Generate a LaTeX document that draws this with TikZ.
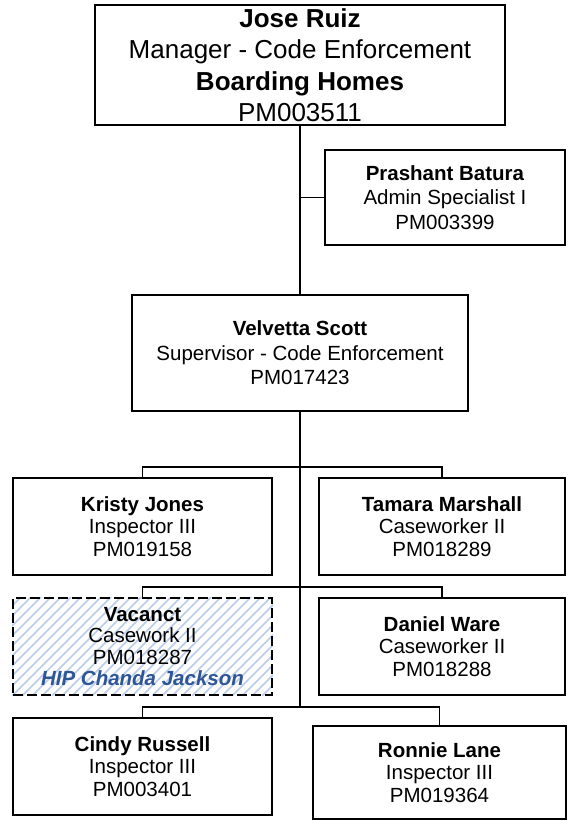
\documentclass[tikz,border=0pt]{standalone}
\usepackage{fontspec}
\setmainfont{Liberation Sans}
\usetikzlibrary{backgrounds}
\definecolor{hipblue}{RGB}{46,85,150}
\definecolor{hatchblue}{RGB}{185,204,234}
\begin{document}
\begin{tikzpicture}[x=1pt,y=-1pt,
  box/.style={draw=black, line width=1.8pt, rectangle, inner sep=0pt, align=center},
  bigtxt/.style={font=\fontsize{26}{31.5}\selectfont},
  midtxt/.style={font=\fontsize{20.5}{24.5}\selectfont},
  smalltxt/.style={font=\fontsize{20.5}{22.5}\selectfont},
  conn/.style={draw=black, line width=1.3pt},
  vacbox/.style={draw=black, line width=1.6pt, dash pattern=on 10pt off 4pt, rectangle, inner sep=0pt, align=center},
  hatch/.style={draw=hatchblue, line width=1.6pt}
]
\useasboundingbox (0,0) rectangle (571,820);

\node[box, bigtxt, minimum width=410pt, minimum height=120pt] (top) at (300,65)
  {\textbf{Jose Ruiz}\\Manager - Code Enforcement\\\textbf{Boarding Homes}\\PM003511};
\node[box, midtxt, minimum width=240pt, minimum height=95pt] (pras) at (445,197.5)
  {\textbf{Prashant Batura}\\Admin Specialist I\\PM003399};
\node[box, midtxt, minimum width=336pt, minimum height=116pt] (velv) at (300,353)
  {\textbf{Velvetta Scott}\\Supervisor - Code Enforcement\\PM017423};

\node[box, smalltxt, minimum width=259pt, minimum height=97pt] (kristy) at (142.5,526.5)
  {\textbf{Kristy Jones}\\Inspector III\\PM019158};
\node[box, smalltxt, minimum width=246pt, minimum height=97pt] (tamara) at (442,526.5)
  {\textbf{Tamara Marshall}\\Caseworker II\\PM018289};
\node[vacbox, font=\fontsize{20.5}{21.5}\selectfont, minimum width=259pt, minimum height=97pt] (vac) at (142.5,646.5)
  {\textbf{Vacanct}\\Casework II\\PM018287\\{\color{hipblue}\bfseries\itshape HIP Chanda Jackson}};
\node[box, smalltxt, minimum width=246pt, minimum height=97pt] (daniel) at (442,646.5)
  {\textbf{Daniel Ware}\\Caseworker II\\PM018288};
\node[box, smalltxt, minimum width=259pt, minimum height=97pt] (cindy) at (142.5,766.5)
  {\textbf{Cindy Russell}\\Inspector III\\PM003401};
\node[box, smalltxt, minimum width=253pt, minimum height=93pt] (ronnie) at (439.5,772.5)
  {\textbf{Ronnie Lane}\\Inspector III\\PM019364};

\begin{scope}[on background layer]
  \clip (vac.south west) rectangle (vac.north east);
  \foreach \i in {0,...,38}
    \draw[hatch] ([xshift=\i*10pt-110pt]vac.south west) -- ++(110,-110);
\end{scope}

\coordinate (b1) at (300,467);
\coordinate (b2) at (300,587);
\coordinate (b3) at (300,707);

\draw[conn] (top.south) -- (velv.north);
\draw[conn] (top.south |- pras.west) -- (pras.west);
\draw[conn] (velv.south) -- (b3);
\draw[conn] (kristy.north) |- (b1) -| (tamara.north);
\draw[conn] (vac.north) |- (b2) -| (daniel.north);
\draw[conn] (cindy.north) |- (b3) -| (ronnie.north);
\end{tikzpicture}
\end{document}
